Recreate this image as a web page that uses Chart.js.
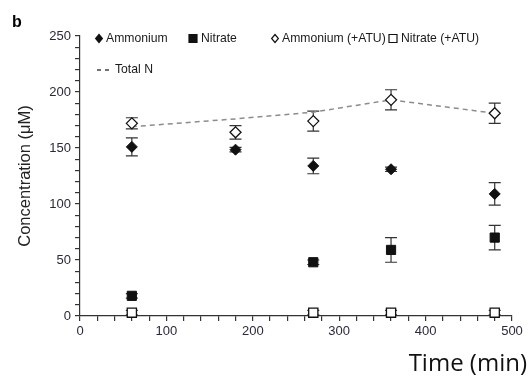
<!DOCTYPE html>
<html>
<head>
<meta charset="utf-8">
<script src="https://cdn.jsdelivr.net/npm/chart.js@4.4.1/dist/chart.umd.min.js"></script>
<style>
  html, body { margin: 0; padding: 0; background: #fff; }
  #wrap { width: 530px; height: 378px; position: relative; }
</style>
</head>
<body>
<div id="wrap"><canvas id="nChart" width="530" height="378"></canvas></div>
<script>
// values (time in min, concentration in µM)
const ammoniumTimes = [60, 180, 270, 360, 480];
const ammonium = [151, 148.5, 134, 131, 109];
const ammoniumErr = [8, 2, 7, 2, 10];

const nitrateTimes = [60, 270, 360, 480];
const nitrate = [18, 48, 59, 70];
const nitrateErr = [2, 2, 11, 11];

const ammoniumAtuTimes = [60, 180, 270, 360, 480];
const ammoniumAtu = [172, 164, 174, 193, 181];
const ammoniumAtuErr = [5, 6, 9, 9, 9];

const nitrateAtuTimes = [60, 270, 360, 480];
const nitrateAtu = [3, 3, 3, 3];
const nitrateAtuErr = [2, 2, 2, 2];

const totalNTimes = [60, 180, 270, 360, 480];
const totalN = [169, 176, 182, 193, 181];

const xTickLabels = [0, 100, 200, 300, 400, 500];
const yTickLabels = [0, 50, 100, 150, 200, 250];

const FONT = "'Liberation Sans', Arial, Helvetica, sans-serif";
const INK = "#111";

function toPoints(xs, ys) {
  return xs.map((x, i) => ({ x: x, y: ys[i] }));
}

// error bars, drawn under the markers
const errorBars = {
  id: "errorBars",
  beforeDatasetsDraw(chart) {
    const { ctx, scales } = chart;
    ctx.save();
    ctx.strokeStyle = "#333";
    ctx.lineWidth = 1.2;
    chart.data.datasets.forEach((ds) => {
      if (!ds.errors) return;
      ds.data.forEach((p, i) => {
        const e = ds.errors[i];
        const px = scales.x.getPixelForValue(p.x);
        const top = scales.y.getPixelForValue(p.y + e);
        const bot = scales.y.getPixelForValue(p.y - e);
        ctx.beginPath();
        ctx.moveTo(px, top);
        ctx.lineTo(px, bot);
        ctx.moveTo(px - 6, top);
        ctx.lineTo(px + 6, top);
        ctx.moveTo(px - 6, bot);
        ctx.lineTo(px + 6, bot);
        ctx.stroke();
      });
    });
    ctx.restore();
  },
};

function marker(ctx, kind, x, y) {
  ctx.save();
  ctx.lineWidth = 1.2;
  ctx.strokeStyle = INK;
  ctx.fillStyle = kind.indexOf("open") === 0 ? "#fff" : INK;
  ctx.beginPath();
  if (kind.indexOf("Diamond") > 0) {
    const r = 4;
    ctx.moveTo(x, y - r);
    ctx.lineTo(x + r * 0.85, y);
    ctx.lineTo(x, y + r);
    ctx.lineTo(x - r * 0.85, y);
    ctx.closePath();
  } else {
    ctx.rect(x - 4, y - 4, 8, 8);
  }
  ctx.fill();
  ctx.stroke();
  ctx.restore();
}

// legend, panel letter and x title
const decorations = {
  id: "decorations",
  afterDraw(chart) {
    const ctx = chart.ctx;
    ctx.save();
    ctx.fillStyle = "#1a1a1a";
    ctx.textBaseline = "middle";
    ctx.font = "12.2px " + FONT;

    const row1 = [
      ["filledDiamond", 99, "Ammonium"],
      ["filledSquare", 193, "Nitrate"],
      ["openDiamond", 275, "Ammonium (+ATU)"],
      ["openSquare", 393, "Nitrate (+ATU)"],
    ];
    row1.forEach(([kind, x, label]) => {
      marker(ctx, kind, x, 38.5);
      ctx.fillStyle = "#1a1a1a";
      ctx.fillText(label, x + (kind.indexOf("Square") > 0 ? 8 : 7), 38.5);
    });

    ctx.strokeStyle = "#444";
    ctx.lineWidth = 1.3;
    ctx.setLineDash([4, 4]);
    ctx.beginPath();
    ctx.moveTo(97, 70);
    ctx.lineTo(112, 70);
    ctx.stroke();
    ctx.setLineDash([]);
    ctx.fillText("Total N", 115, 70);

    ctx.font = "bold 16px " + FONT;
    ctx.textBaseline = "alphabetic";
    ctx.fillStyle = "#000";
    ctx.fillText("b", 12, 27);

    ctx.font = "24px 'Open Sans', 'Noto Sans', sans-serif";
    ctx.textAlign = "right";
    ctx.fillStyle = "#111";
    ctx.fillText("Time (min)", 527, 371);
    ctx.restore();
  },
};

const ctx = document.getElementById("nChart").getContext("2d");

new Chart(ctx, {
  type: "scatter",
  data: {
    datasets: [
      {
        label: "Total N",
        data: toPoints(totalNTimes, totalN),
        showLine: true,
        borderColor: "#8c8c8c",
        borderWidth: 1.5,
        borderDash: [5, 4],
        pointRadius: 0,
        order: 10,
      },
      {
        label: "Ammonium",
        data: toPoints(ammoniumTimes, ammonium),
        errors: ammoniumErr,
        pointStyle: "rectRot",
        pointRadius: 5.5,
        backgroundColor: INK,
        borderColor: INK,
        borderWidth: 1,
      },
      {
        label: "Nitrate",
        data: toPoints(nitrateTimes, nitrate),
        errors: nitrateErr,
        pointStyle: "rect",
        pointRadius: 6.5,
        backgroundColor: INK,
        borderColor: INK,
        borderWidth: 1,
      },
      {
        label: "Ammonium (+ATU)",
        data: toPoints(ammoniumAtuTimes, ammoniumAtu),
        errors: ammoniumAtuErr,
        pointStyle: "rectRot",
        pointRadius: 5.5,
        backgroundColor: "#fff",
        borderColor: INK,
        borderWidth: 1.3,
      },
      {
        label: "Nitrate (+ATU)",
        data: toPoints(nitrateAtuTimes, nitrateAtu),
        errors: nitrateAtuErr,
        pointStyle: "rect",
        pointRadius: 6.5,
        backgroundColor: "#fff",
        borderColor: INK,
        borderWidth: 1.3,
        clip: false,
      },
    ],
  },
  options: {
    responsive: false,
    animation: false,
    layout: { padding: { left: 0, right: 18, top: 36, bottom: 0 } },
    plugins: {
      legend: { display: false },
      tooltip: { enabled: false },
    },
    scales: {
      x: {
        type: "linear",
        min: 0,
        max: 500,
        afterFit: (s) => { s.height = 62; },
        border: { display: true, color: "#333", width: 1.2 },
        grid: { drawOnChartArea: false, drawTicks: true, tickLength: 5, color: "#333", lineWidth: 1.2 },
        ticks: {
          stepSize: 20,
          autoSkip: false,
          maxRotation: 0,
          padding: 3,
          color: "#2a2a3a",
          font: { family: FONT, size: 13 },
          callback: (v) => (xTickLabels.includes(v) ? v : ""),
        },
      },
      y: {
        min: 0,
        max: 250,
        afterFit: (s) => { s.width = 80; },
        border: { display: true, color: "#333", width: 1.2 },
        grid: { drawOnChartArea: false, drawTicks: true, tickLength: 5, color: "#333", lineWidth: 1.2 },
        ticks: {
          stepSize: 10,
          autoSkip: false,
          padding: 4,
          color: "#2a2a3a",
          font: { family: FONT, size: 13 },
          callback: (v) => (yTickLabels.includes(v) ? v : ""),
        },
        title: {
          display: true,
          text: "Concentration (μM)",
          color: "#222",
          font: { family: FONT, size: 16.5 },
          padding: { top: 16, bottom: 0 },
        },
      },
    },
  },
  plugins: [errorBars, decorations],
});
</script>
</body>
</html>
